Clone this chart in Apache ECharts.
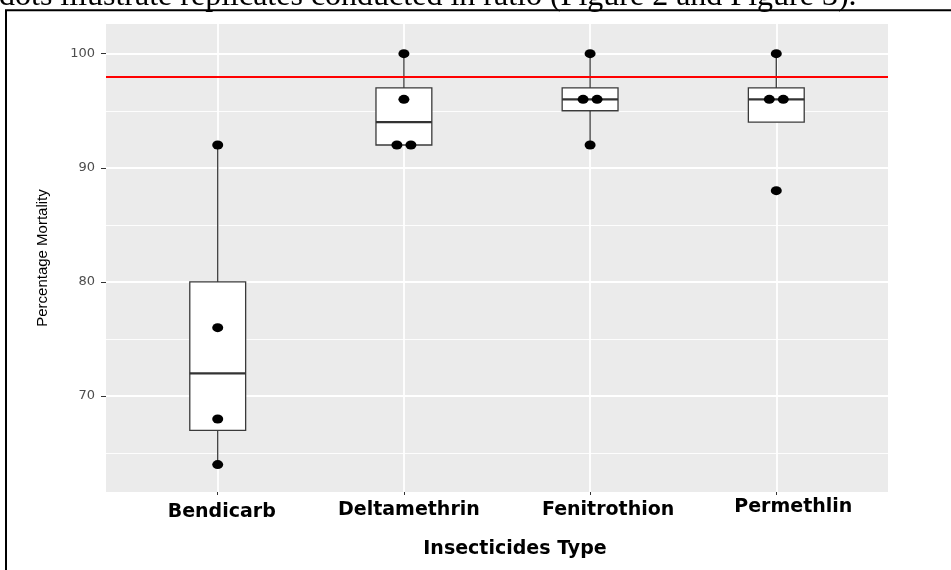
<!DOCTYPE html>
<html><head><meta charset="utf-8">
<script src="https://cdn.jsdelivr.net/npm/echarts@6/dist/echarts.min.js"></script>
<style>html,body{margin:0;padding:0;background:#fff}#c{width:951px;height:570px}</style>
</head><body><div id="c"></div><script>
const categories = ['Bendicarb', 'Deltamethrin', 'Fenitrothion', 'Permethlin'];
const whiskerLow  = [64, 92, 92, 94];
const q1          = [67, 92, 95, 94];
const median      = [72, 94, 96, 96];
const q3          = [80, 97, 97, 97];
const whiskerHigh = [92, 100, 100, 100];
const replicates = [
  [92, 76, 68, 64],
  [100, 96, 92, 92],
  [100, 96, 96, 92],
  [100, 96, 96, 88]
];
const thresholdLine = 98;
const yMajorTicks = [70, 80, 90, 100];
const yMinorTicks = [65, 75, 85, 95];
const yTitle = 'Percentage Mortality';
const xTitle = 'Insecticides Type';
const captionText = 'dots illustrate replicates conducted in ratio (Figure 2 and Figure 3).';

const catPos = categories.map((c, i) => i + 1);
const boxData = categories.map((c, i) => [i + 1, whiskerLow[i], q1[i], median[i], q3[i], whiskerHigh[i]]);
const pointData = [];
replicates.forEach((vals, i) => {
  const counts = {}, seen = {};
  vals.forEach(v => counts[v] = (counts[v] || 0) + 1);
  vals.forEach(v => {
    const n = counts[v];
    const k = seen[v] || 0; seen[v] = k + 1;
    pointData.push({ value: [i + 1, v], symbolOffset: [(k - (n - 1) / 2) * 14, 0] });
  });
});

const labelPad = [[5, 0, 0, 8], [3, 0, 0, 10], [3, 0, 0, 36], [0, 0, 0, 34]];
const rich = {};
labelPad.forEach((p, i) => {
  rich['c' + i] = { fontFamily: 'DejaVu Sans', fontWeight: 'bold', fontSize: 19, color: '#000', padding: p };
});

const chart = echarts.init(document.getElementById('c'), null, { renderer: 'canvas' });
chart.setOption({
  animation: false,
  backgroundColor: '#fff',
  grid: { left: 106, right: 63, top: 24, bottom: 78, show: true, backgroundColor: '#ebebeb', borderWidth: 0 },
  xAxis: {
    type: 'value', min: 0.4, max: 4.6,
    axisLine: { show: false },
    axisTick: { show: true, customValues: catPos, length: 3, lineStyle: { color: '#333', width: 1 } },
    axisLabel: {
      customValues: catPos, margin: 6,
      formatter: v => '{c' + (v - 1) + '|' + categories[v - 1] + '}',
      rich: rich
    },
    splitLine: { show: true, lineStyle: { color: '#fff', width: 1.8 } },
    name: xTitle, nameLocation: 'middle', nameGap: 48,
    nameTextStyle: { fontFamily: 'DejaVu Sans', fontWeight: 'bold', fontSize: 19, color: '#000', padding: [0, 0, 0, 36] }
  },
  yAxis: [{
    type: 'value', min: 61.6, max: 102.6,
    axisLine: { show: false },
    axisTick: { show: true, customValues: yMajorTicks, length: 5, lineStyle: { color: '#333', width: 1 } },
    axisLabel: { customValues: yMajorTicks, margin: 11, fontFamily: 'DejaVu Sans', fontSize: 13, color: '#4d4d4d' },
    splitLine: { show: true, lineStyle: { color: '#fff', width: 1.8 } },
    name: yTitle, nameLocation: 'middle', nameRotate: 90, nameGap: 56,
    nameTextStyle: { fontFamily: 'Liberation Sans', fontSize: 15, color: '#000' }
  }, {
    type: 'value', min: 61.6, max: 102.6, position: 'left',
    axisLine: { show: false },
    axisTick: { show: false, customValues: yMinorTicks },
    axisLabel: { show: false, customValues: yMinorTicks },
    splitLine: { show: true, lineStyle: { color: '#fff', width: 0.9 } }
  }],
  series: [{
    type: 'custom',
    z: 3,
    data: boxData,
    renderItem: function (params, api) {
      const x = api.value(0);
      const pLow = api.coord([x, api.value(1)]);
      const pQ1 = api.coord([x, api.value(2)]);
      const pMed = api.coord([x, api.value(3)]);
      const pQ3 = api.coord([x, api.value(4)]);
      const pHigh = api.coord([x, api.value(5)]);
      const hw = api.size([0.3, 0])[0] / 2;
      const cx = pQ1[0];
      const ls = { stroke: '#3a3a3a', lineWidth: 1.3 };
      return { type: 'group', children: [
        { type: 'line', shape: { x1: cx, y1: pHigh[1], x2: cx, y2: pQ3[1] }, style: ls },
        { type: 'line', shape: { x1: cx, y1: pQ1[1], x2: cx, y2: pLow[1] }, style: ls },
        { type: 'rect', shape: { x: cx - hw, y: pQ3[1], width: 2 * hw, height: pQ1[1] - pQ3[1] }, style: { fill: '#fff', stroke: '#3a3a3a', lineWidth: 1.3 } },
        { type: 'line', shape: { x1: cx - hw, y1: pMed[1], x2: cx + hw, y2: pMed[1] }, style: { stroke: '#333', lineWidth: 2.2 } }
      ] };
    },
    markLine: {
      silent: true, symbol: 'none', label: { show: false },
      lineStyle: { color: '#ff0000', width: 2.2, type: 'solid' },
      data: [{ yAxis: thresholdLine }]
    }
  }, {
    type: 'scatter', z: 5,
    symbol: 'circle', symbolSize: [11, 9],
    itemStyle: { color: '#000', opacity: 1 },
    data: pointData
  }],
  graphic: [
    { type: 'text', silent: true, style: { x: -1, y: -3.5, text: captionText, font: '32px "Liberation Serif"', fill: '#000', verticalAlign: 'middle' } },
    { type: 'rect', silent: true, shape: { x: 6, y: 10.2, width: 1200, height: 800 }, style: { fill: 'none', stroke: '#000', lineWidth: 2 } }
  ]
});
</script></body></html>
